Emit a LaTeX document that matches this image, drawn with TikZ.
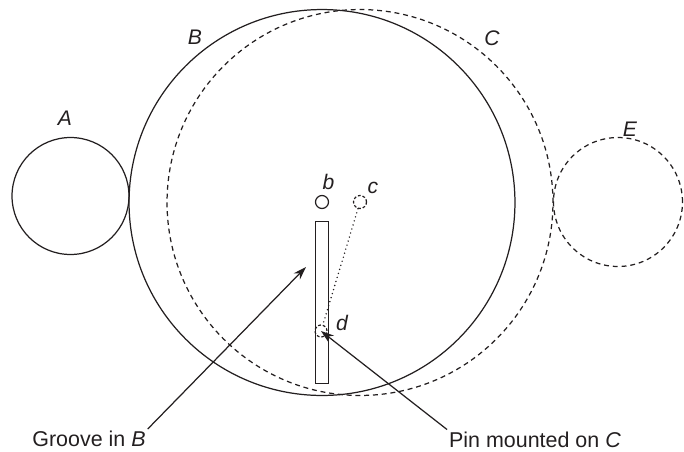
\documentclass[tikz,border=0pt]{standalone}
\usepackage{fontspec}
\setmainfont{Liberation Sans}
\usepackage{xcolor}
\usetikzlibrary{arrows.meta}

\begin{document}
\begin{tikzpicture}[>={Stealth[length=7.5pt,width=5pt]},x=0.02cm,y=-0.02cm,
  wheel/.style={draw=ink,circle,inner sep=0pt,line width=0.7pt},
  lab/.style={font=\fontsize{12}{13}\selectfont\itshape,text=ink,inner sep=0pt},
  note/.style={font=\fontsize{12.2}{13}\selectfont,text=ink,inner sep=1pt},
  hidden/.style={dash pattern=on 2.8pt off 2.2pt},
  hiddenpin/.style={dash pattern=on 1.6pt off 1.1pt}]
\definecolor{ink}{RGB}{35,31,32}
\useasboundingbox (0,0) rectangle (684,451);
\node[wheel,minimum size=2.34cm] (wheelA) at (70.5,196) {};
\node[wheel,minimum size=7.72cm] (wheelB) at (322,202.5) {};
\node[wheel,hidden,minimum size=7.72cm] (wheelC) at (360,202.5) {};
\node[wheel,hidden,minimum size=2.58cm] (wheelE) at (618,202) {};
\node[wheel,minimum size=0.26cm] (pinb) at (322,202) {};
\node[wheel,hiddenpin,minimum size=0.26cm] (pinc) at (360,202) {};
\node[wheel,hiddenpin,minimum size=0.24cm] (pind) at (321,331) {};
\draw[draw=ink,line width=0.7pt] (315.5,221.5) rectangle (328.5,383.5);
\coordinate (groove) at (306,267);
\draw[ink,line width=0.9pt,line cap=round,dash pattern=on 0pt off 2.4pt] (pinc) -- (pind);
\node[lab] (labA) at (65,118) {A};
\node[lab] (labB) at (195,37) {B};
\node[lab] (labC) at (492,38) {C};
\node[lab] (labE) at (630,129) {E};
\node[lab] (labb) at (328.5,182) {b};
\node[lab] (labc) at (373,188) {c};
\node[lab] (labd) at (342,323) {d};
\node[note] (notegroove) at (89,439) {Groove in \textit{B}};
\node[note] (notepin) at (535,439.5) {Pin mounted on \textit{C}};
\draw[->,ink,line width=0.7pt] (notegroove.north east) -- (groove);
\draw[->,ink,line width=0.7pt] (notepin.north west) -- (pind.center);
\end{tikzpicture}
\end{document}
